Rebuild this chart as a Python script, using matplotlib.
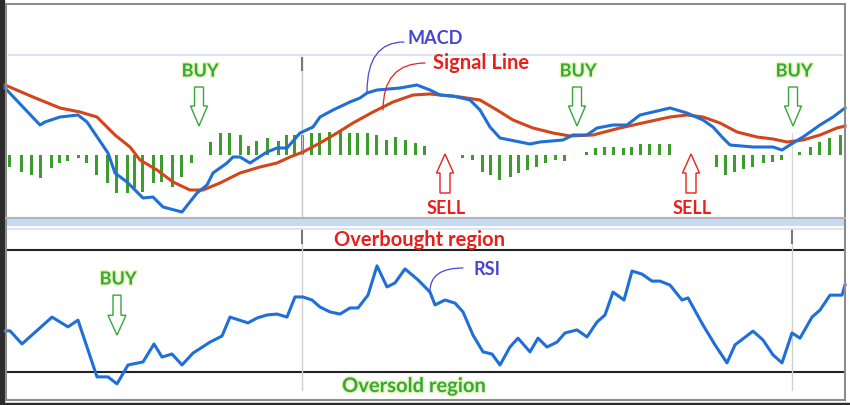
import matplotlib
matplotlib.use("Agg")
import matplotlib.pyplot as plt
import matplotlib.patheffects as pe
from matplotlib.patches import Rectangle, FancyArrow
from matplotlib.lines import Line2D

# -------------------------------
# MACD line (time index, value)
macd_t = [5, 40, 45, 60, 78, 87, 108, 115, 127, 143, 153, 163, 182, 197, 207, 213,
          227, 233, 240, 250, 267, 277, 287, 300, 313, 320, 333, 350, 360, 367, 377,
          400, 417, 430, 440, 453, 470, 480, 490, 500, 520, 530, 540, 563, 573, 587,
          597, 613, 627, 640, 653, 670, 687, 703, 713, 723, 730, 753, 773, 782, 793,
          803, 820, 833, 845]
macd_vals = [0.67, 0.30, 0.33, 0.38, 0.40, 0.33, 0.02, -0.18, -0.27, -0.43, -0.42,
             -0.52, -0.57, -0.38, -0.30, -0.18, -0.08, -0.02, -0.02, -0.08, 0.03, 0.07,
             0.07, 0.22, 0.28, 0.38, 0.45, 0.53, 0.57, 0.62, 0.65, 0.67, 0.70, 0.65,
             0.60, 0.59, 0.55, 0.45, 0.28, 0.17, 0.13, 0.11, 0.13, 0.15, 0.20, 0.20,
             0.27, 0.30, 0.30, 0.40, 0.43, 0.47, 0.42, 0.35, 0.28, 0.17, 0.10, 0.08,
             0.08, 0.05, 0.12, 0.18, 0.30, 0.38, 0.47]

# Signal line
signal_t = [5, 33, 60, 80, 97, 115, 130, 140, 157, 173, 190, 203, 220, 240, 260, 277,
            290, 303, 320, 337, 353, 373, 393, 413, 430, 440, 460, 480, 497, 513, 533,
            553, 570, 593, 620, 647, 670, 687, 703, 720, 737, 757, 773, 787, 803, 820,
            837, 845]
signal_vals = [0.70, 0.58, 0.47, 0.43, 0.38, 0.20, 0.08, -0.05, -0.15, -0.27, -0.35,
               -0.35, -0.28, -0.18, -0.12, -0.08, -0.02, 0.03, 0.12, 0.22, 0.32, 0.43,
               0.53, 0.60, 0.61, 0.60, 0.58, 0.55, 0.45, 0.35, 0.27, 0.22, 0.19, 0.20,
               0.27, 0.33, 0.38, 0.40, 0.38, 0.32, 0.23, 0.18, 0.16, 0.13, 0.15, 0.20,
               0.27, 0.29]

# Histogram (MACD - signal)
hist_t = [10, 22, 32, 41, 52, 60, 68, 79, 87, 97, 108, 117, 128, 135, 143, 154, 162,
          173, 182, 192, 211, 221, 230, 241, 249, 257, 268, 279, 287, 295, 303, 312,
          320, 330, 341, 350, 358, 368, 377, 387, 396, 406, 416, 425, 463, 473, 483,
          491, 500, 511, 519, 528, 537, 546, 556, 565, 587, 596, 605, 614, 624, 632,
          641, 650, 660, 670, 717, 726, 735, 744, 753, 764, 773, 782, 800, 811, 820,
          830, 841]
hist_vals = [-0.12, -0.17, -0.20, -0.23, -0.13, -0.08, -0.06, -0.03, -0.08, -0.20,
             -0.28, -0.38, -0.38, -0.33, -0.37, -0.28, -0.27, -0.32, -0.22, -0.08,
             0.13, 0.22, 0.22, 0.20, 0.09, 0.14, 0.17, 0.14, 0.20, 0.20, 0.20, 0.22,
             0.22, 0.23, 0.25, 0.22, 0.22, 0.22, 0.20, 0.15, 0.18, 0.15, 0.12, 0.09,
             -0.03, -0.05, -0.17, -0.20, -0.25, -0.22, -0.18, -0.15, -0.12, -0.08,
             -0.05, -0.06, 0.03, 0.07, 0.08, 0.08, 0.07, 0.08, 0.11, 0.11, 0.11, 0.11,
             -0.12, -0.20, -0.17, -0.14, -0.12, -0.08, -0.07, -0.05, 0.03, 0.08, 0.13,
             0.17, 0.20]

# RSI
rsi_t = [5, 10, 22, 52, 68, 78, 97, 108, 117, 128, 143, 154, 162, 172, 182, 193, 210,
         222, 230, 248, 257, 267, 277, 287, 295, 303, 312, 320, 330, 340, 350, 358, 368,
         377, 387, 395, 405, 418, 430, 435, 445, 455, 463, 473, 483, 492, 500, 510, 518,
         530, 538, 547, 557, 565, 577, 587, 597, 605, 613, 624, 632, 642, 652, 660, 670,
         682, 688, 703, 715, 727, 735, 753, 763, 773, 782, 792, 800, 812, 820, 830, 842,
         845]
rsi_vals = [43.5, 43.5, 39.2, 48.0, 44.8, 47.0, 28.4, 28.4, 26.1, 32.3, 33.3, 39.2,
            34.9, 35.9, 32.3, 36.2, 39.8, 41.8, 48.0, 46.1, 47.7, 48.7, 49.0, 48.0,
            54.6, 54.6, 53.6, 51.3, 49.7, 49.0, 51.0, 51.0, 55.2, 64.8, 57.9, 59.2,
            63.8, 60.2, 56.2, 52.0, 53.6, 52.6, 49.7, 42.1, 36.6, 35.9, 32.3, 38.2,
            41.1, 36.6, 41.1, 38.2, 39.8, 42.8, 43.8, 41.5, 46.4, 48.7, 56.2, 53.6,
            63.1, 62.1, 59.8, 59.8, 58.5, 53.6, 54.3, 45.4, 38.9, 33.0, 38.9, 43.4,
            40.5, 35.6, 33.0, 42.8, 41.1, 48.0, 50.3, 55.2, 55.2, 58.5]

overbought = 70
oversold = 30

# signal points (time) for the buy / sell markers
macd_buy_t = [199, 577, 793]
macd_sell_t = [445, 691]
rsi_buy_t = [117]

# -------------------------------
W, H = 850, 405
GREEN = "#35a83a"
RED = "#e8201c"
VIOLET = "#4646cf"
BLUE = "#1f6fd6"

plt.rcParams["font.family"] = ["Lato", "DejaVu Sans"]
plt.rcParams["font.weight"] = "bold"

fig = plt.figure(figsize=(W / 100, H / 100), dpi=100)


def fy(y):
    return 1 - y / H


# frame / separators (figure coords)
fig.add_artist(Rectangle((0, 0), 4 / W, 1, transform=fig.transFigure, color="#2b2b2b", zorder=0))
fig.add_artist(Rectangle((0, 0), 1, 2.5 / H, transform=fig.transFigure, color="#2b2b2b", zorder=0))
fig.add_artist(Rectangle((5.5 / W, fy(399.5)), (845 - 5.5) / W, (399.5 - 3.5) / H,
                         transform=fig.transFigure, fill=False, ec="#8c8c8c", lw=1.5, zorder=5))
fig.add_artist(Rectangle((5.5 / W, fy(226)), (845 - 5.5) / W, 7 / H,
                         transform=fig.transFigure, color="#c5dbf5", lw=0, zorder=4))
fig.add_artist(Line2D([5.5 / W, 845 / W], [fy(218), fy(218)], transform=fig.transFigure,
                      color="#b4b4b4", lw=1.5, zorder=5))
fig.add_artist(Line2D([8 / W, 843 / W], [fy(228.5), fy(228.5)], transform=fig.transFigure,
                      color="#dcdcf2", lw=1.2, zorder=5))

# -------------------------------
# MACD panel
ax1 = fig.add_axes([0, fy(217), 1, (217 - 4) / H])
ax1.set_xlim(0, W)
ax1.set_ylim(-0.62, 1.51)
ax1.axis("off")

ax1.hlines(1.0, 8, 843, color="#dcdcf4", lw=1.2)
ax1.axvline(302, 0, 0.746, color="#c8c8c8", lw=1)
ax1.axvline(302, 0.69, 0.746, color="#777777", lw=1.5)
ax1.axvline(792, 0, 0.394, color="#d8d8d8", lw=1)

ax1.bar(hist_t, hist_vals, width=3, color="#3d9c2e", zorder=1)
ax1.plot(signal_t, signal_vals, color="#d2461a", lw=2.2, zorder=2)
ax1.plot(macd_t, macd_vals, color=BLUE, lw=2.2, zorder=3)

glow_g = [pe.withStroke(linewidth=2, foreground="#e6f4b8")]

for t in macd_buy_t:
    ax1.add_patch(FancyArrow(t, 0.68, 0, -0.39, width=9, head_width=17, head_length=0.20,
                             length_includes_head=True, fc="white", ec=GREEN, lw=1, zorder=4))
    ax1.text(t + 1, 0.84, "BUY", color=GREEN, fontsize=13, ha="center", va="center",
             path_effects=glow_g)
for t in macd_sell_t:
    ax1.add_patch(FancyArrow(t, -0.38, 0, 0.39, width=10, head_width=17, head_length=0.19,
                             length_includes_head=True, fc="white", ec=RED, lw=1, zorder=4))
    ax1.text(t + 1, -0.535, "SELL", color=RED, fontsize=13, ha="center", va="center")

# labels with thin connectors
ax1.annotate("", xy=(367, 0.63), xytext=(404, 1.13),
             arrowprops=dict(arrowstyle="-", color=VIOLET, lw=0.9, shrinkA=0, shrinkB=0,
                             connectionstyle="angle3,angleA=0,angleB=90"))
ax1.text(408, 1.17, "MACD", color=VIOLET, fontsize=13, ha="left", va="center")
ax1.annotate("", xy=(383, 0.45), xytext=(425, 0.92),
             arrowprops=dict(arrowstyle="-", color=RED, lw=0.9, shrinkA=0, shrinkB=0,
                             connectionstyle="angle3,angleA=0,angleB=90"))
ax1.text(433, 0.92, "Signal Line", color=RED, fontsize=14.5, ha="left", va="center")

# -------------------------------
# RSI panel
ax2 = fig.add_axes([0, fy(398), 1, (398 - 228) / H])
ax2.set_xlim(0, W)
ax2.set_ylim(21.48, 77.21)
ax2.axis("off")

ax2.hlines([overbought, oversold], 5, 845, color="#222222", lw=1.5)
for t in (302, 792):
    ax2.axvline(t, 0.047, 0.912, color="#d0d0d0", lw=1)
    ax2.axvline(t, 0.912, 0.988, color="#777777", lw=1.5)

ax2.plot(rsi_t, rsi_vals, color=BLUE, lw=2.2, zorder=3)

for t in rsi_buy_t:
    ax2.add_patch(FancyArrow(t, 55.2, 0, -13.1, width=8, head_width=18, head_length=6.5,
                             length_includes_head=True, fc="white", ec=GREEN, lw=1, zorder=4))
    ax2.text(t + 1, 60.5, "BUY", color=GREEN, fontsize=13, ha="center", va="center",
             path_effects=glow_g)

ax2.annotate("", xy=(430, 56.5), xytext=(463, 64.1),
             arrowprops=dict(arrowstyle="-", color=VIOLET, lw=0.9, shrinkA=0, shrinkB=0,
                             connectionstyle="angle3,angleA=0,angleB=90"))
ax2.text(474, 63.6, "RSI", color=VIOLET, fontsize=13, ha="left", va="center")

ax2.text(420, 73.4, "Overbought region", color=RED, fontsize=14.5, ha="center", va="center")
ax2.text(414, 25.4, "Oversold region", color=GREEN, fontsize=14.5, ha="center", va="center",
         path_effects=glow_g)

fig.savefig("out.png", dpi=100)
